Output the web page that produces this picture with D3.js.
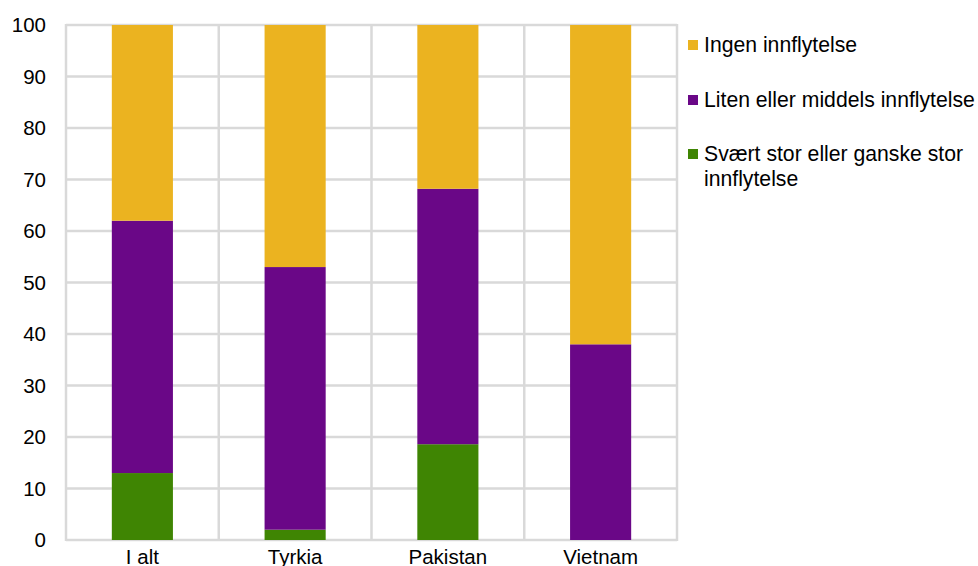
<!DOCTYPE html>
<html>
<head>
<meta charset="utf-8">
<script src="https://cdn.jsdelivr.net/npm/d3@7"></script>
<style>
  html, body { margin: 0; padding: 0; background: #fff; }
  svg { display: block; font-family: "Liberation Sans", Arial, sans-serif; }
</style>
</head>
<body>
<svg id="chart" width="978" height="566"></svg>
<script>
const categories = ["I alt", "Tyrkia", "Pakistan", "Vietnam"];
const seriesNames = ["Svært stor eller ganske stor innflytelse", "Liten eller middels innflytelse", "Ingen innflytelse"];
const stor = [13, 2, 18.6, 0];
const liten = [49, 51, 49.6, 38];
const ingen = [38, 47, 31.8, 62];
const yTicks = [0, 10, 20, 30, 40, 50, 60, 70, 80, 90, 100];
const colors = ["#3F8503", "#6A0787", "#EBB320"];
const legendOrder = [
  { lines: ["Ingen innflytelse"], color: 2 },
  { lines: ["Liten eller middels innflytelse"], color: 1 },
  { lines: ["Svært stor eller ganske stor", "innflytelse"], color: 0 }
];

const svg = d3.select("#chart");
const mLeft = 66, mRight = 677, mTop = 25, mBottom = 540;
const fs = 20.5;

const x = d3.scaleBand().domain(categories).range([mLeft, mRight]).paddingInner(0.6).paddingOuter(0.3);
const xBand = d3.scaleBand().domain(categories).range([mLeft, mRight]);
const y = d3.scaleLinear().domain([0, 100]).range([mBottom, mTop]);

const grid = "#d9d9d9";
// horizontal gridlines
svg.append("g").selectAll("line").data(yTicks).join("line")
  .attr("x1", mLeft).attr("x2", mRight)
  .attr("y1", d => y(d)).attr("y2", d => y(d))
  .attr("stroke", grid).attr("stroke-width", 2.5);
// vertical gridlines at band boundaries
const vLines = categories.map(c => xBand(c)).concat([mRight]);
svg.append("g").selectAll("line").data(vLines).join("line")
  .attr("x1", d => d).attr("x2", d => d)
  .attr("y1", mTop - 1).attr("y2", mBottom + 1)
  .attr("stroke", grid).attr("stroke-width", 2.5);

// stacked data
const table = categories.map((c, i) => ({ cat: c, s0: stor[i], s1: liten[i], s2: ingen[i] }));
const stack = d3.stack().keys(["s0", "s1", "s2"])(table);

svg.append("g").selectAll("g").data(stack).join("g")
  .attr("fill", (d, i) => colors[i])
  .selectAll("rect").data(d => d).join("rect")
  .attr("x", d => x(d.data.cat))
  .attr("width", x.bandwidth())
  .attr("y", d => y(d[1]))
  .attr("height", d => y(d[0]) - y(d[1]));

// y axis labels
svg.append("g").selectAll("text").data(yTicks).join("text")
  .attr("x", 46).attr("y", d => y(d)).attr("dy", "0.36em")
  .attr("text-anchor", "end").attr("font-size", fs).attr("fill", "#000")
  .text(d => d);

// x axis labels
svg.append("g").selectAll("text").data(categories).join("text")
  .attr("x", d => xBand(d) + xBand.bandwidth() / 2).attr("y", 564)
  .attr("text-anchor", "middle").attr("font-size", fs).attr("fill", "#000")
  .text(d => d);

// legend
const legendY = [45, 100, 154];
const lg = svg.append("g");
legendOrder.forEach((item, i) => {
  const g = lg.append("g");
  g.append("rect").attr("x", 688).attr("y", legendY[i] - 5).attr("width", 10).attr("height", 10)
    .attr("fill", colors[item.color]);
  item.lines.forEach((t, j) => {
    g.append("text").attr("x", 704).attr("y", legendY[i] + 7 + j * 24.5)
      .attr("font-size", 21.2).attr("fill", "#000").text(t);
  });
});
</script>
</body>
</html>
